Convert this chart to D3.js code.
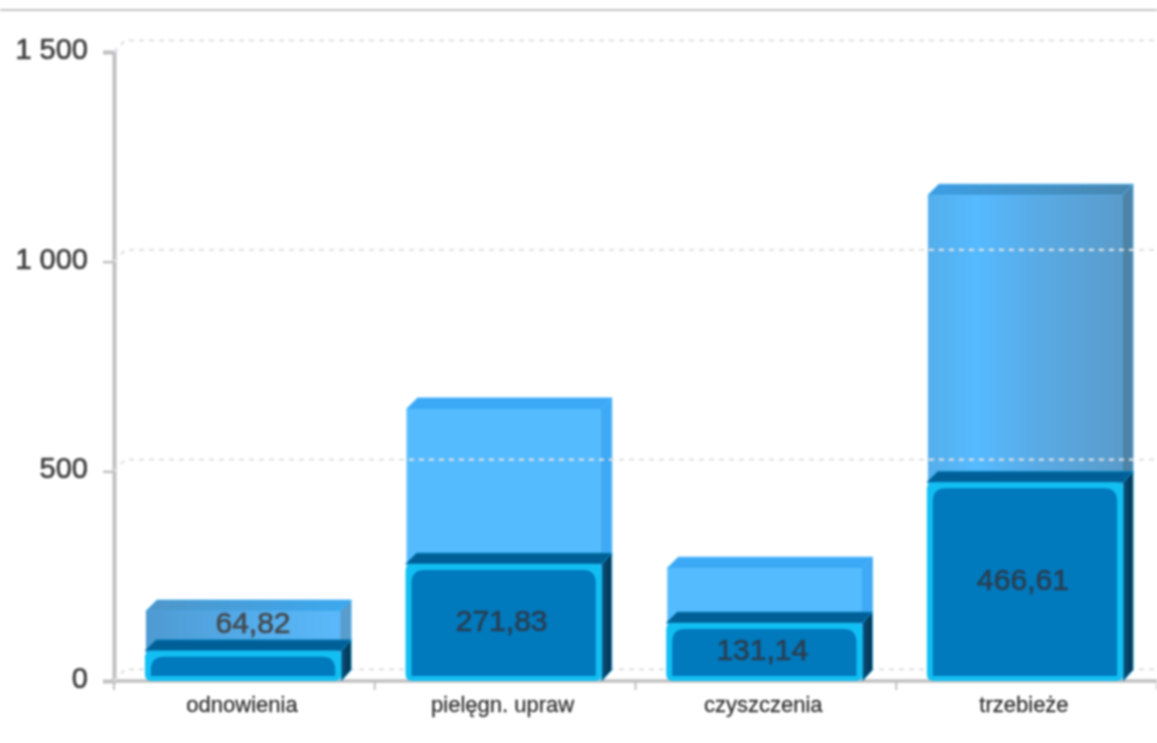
<!DOCTYPE html>
<html><head><meta charset="utf-8">
<script src="https://cdnjs.cloudflare.com/ajax/libs/d3/7.8.5/d3.min.js"></script>
<style>
html,body{margin:0;padding:0;background:#fff;overflow:hidden}
svg{display:block;filter:blur(0.8px)}
text{font-family:"Liberation Sans",Arial,sans-serif}
</style></head><body>
<svg id="c" width="1157" height="743"></svg>
<script>
const categories = ["odnowienia","pielęgn. upraw","czyszczenia","trzebieże"];
const lowerValues = [64.82,271.83,131.14,466.61];
const upperValues = [102,377,138,692];
const yTicks = [0,500,1000,1500];

const W=1157,H=743, DX=11, DY=11;
const svg=d3.select("#c");
const plot={l:114,r:1157,t:52,b:681};
const x=d3.scaleBand().domain(categories).range([plot.l,1154]).paddingInner(0.255).paddingOuter(0.1225);
const y=d3.scaleLinear().domain([0,1500]).range([plot.b,plot.t]);
const loc=d3.formatLocale({decimal:",",thousands:" ",grouping:[3],currency:["",""]});
const fmtVal=loc.format(".2f"), fmtTick=loc.format(",d");

const rows=categories.map((c,i)=>({cat:c,lower:lowerValues[i],upper:upperValues[i]}));
const stacked=d3.stack().keys(["lower","upper"])(rows);

const defs=svg.append("defs");
function grad(id,stops){
  const g=defs.append("linearGradient").attr("id",id).attr("x1",0).attr("x2",1).attr("y1",0).attr("y2",0);
  stops.forEach(s=>g.append("stop").attr("offset",s[0]).attr("stop-color",s[1]));
}
grad("f0",[[0,"#4f9ad2"],[0.6,"#54aeec"],[1,"#5bb8fa"]]);
grad("f3",[[0,"#55aeeb"],[0.25,"#55baff"],[0.55,"#59abe6"],[1,"#5a9ccb"]]);
grad("t0",[[0,"#4f96c8"],[1,"#3ca9f0"]]);
grad("t3",[[0,"#3c9fe4"],[1,"#4a86ae"]]);
grad("sideDark",[[0,"#08527f"],[1,"#062f4a"]]);
const frontFill=["url(#f0)","#55bbff","#55bbff","url(#f3)"];
const topFill=["url(#t0)","#3ca9f6","#3ca9f6","url(#t3)"];
const sideFill=["#5a9ccb","#3fa9f5","#3fa9f5","#4f83a6"];

svg.append("line").attr("x1",0).attr("x2",W).attr("y1",10).attr("y2",10).attr("stroke","#c4c4c4").attr("stroke-width",2);

const axL=svg.append("g").attr("transform",`translate(${plot.l},0)`).call(d3.axisLeft(y).tickValues(yTicks).tickFormat(fmtTick).tickSize(11).tickPadding(15));
const axB=svg.append("g").attr("transform",`translate(0,${plot.b})`);
axL.select(".domain").attr("stroke","#c0c0c0").attr("stroke-width",4);
axL.selectAll(".tick line").attr("stroke","#c0c0c0").attr("stroke-width",2.5);
axL.selectAll("text").attr("font-size",29).attr("fill","#444").attr("stroke","#444").attr("stroke-width",0.7)
  .attr("style",'font-family:"Liberation Sans",Arial,sans-serif').attr("dy","0.22em");

const g=svg.append("g");
const upper=stacked[1], lower=stacked[0];
const bw=x.bandwidth();
upper.forEach((d,i)=>{
  const x0=x(categories[i]), t=y(d[1]), b=y(d[0]);
  g.append("path").attr("d",`M${x0},${t}l${DX},${-DY}h${bw}l${-DX},${DY}z`).attr("fill",topFill[i]).attr("stroke","#3ab0fa").attr("stroke-width",0.8);
  g.append("path").attr("d",`M${x0+bw},${t}l${DX},${-DY}V${b-DY}l${-DX},${DY}z`).attr("fill",sideFill[i]).attr("stroke","#3ab0fa").attr("stroke-width",0.8);
  g.append("rect").attr("x",x0).attr("y",t).attr("width",bw).attr("height",b-t).attr("fill",frontFill[i]);
});

const grid=svg.append("g");
yTicks.forEach(v=>{
  grid.append("path").attr("d",`M${plot.l},${y(v)}l${DX},${-DY-0.7}H${plot.r}`)
    .attr("fill","none").attr("stroke","#dfe2e4").attr("stroke-width",2.2).attr("stroke-dasharray","5 5");
});

const h=svg.append("g");
lower.forEach((d,i)=>{
  const x0=x(categories[i])-1, w=bw+2, t=y(d[1])-3, b=plot.b, sw=6, r=13;
  h.append("path").attr("d",`M${x0+w},${t}l${DX-1},${-DY}V${b-DY}l${-DX+1},${DY}z`).attr("fill","url(#sideDark)").attr("stroke","#0f9fd8").attr("stroke-width",1);
  h.append("path").attr("d",`M${x0},${t}l${DX},${-DY}h${w-1}l${-DX+1},${DY}z`).attr("fill","#005f97").attr("stroke","#0a8fc8").attr("stroke-width",0.8);
  h.append("rect").attr("x",x0).attr("y",t).attr("width",w).attr("height",b-t).attr("rx",6).attr("fill","#12bff2");
  h.append("path").attr("d",`M${x0+sw},${b-sw+1}V${t+sw+r}q0,${-r} ${r},${-r}H${x0+w-sw-r}q${r},0 ${r},${r}V${b-sw+1}z`)
    .attr("fill","#0079bd");
});

const vals=svg.append("g");
lower.forEach((d,i)=>{
  const x0=x(categories[i]), t=y(d[1]), b=y(d[0]);
  const small=(b-t)<40;
  const col=small?"#444b52":"#2a3f52";
  vals.append("text").attr("x",x0+bw/2+(small?10:-2)).attr("y",small?t-32:(t+b)/2-4)
    .attr("dy","0.36em").attr("text-anchor","middle").attr("font-size",30).attr("fill",col).attr("stroke",col).attr("stroke-width",0.7)
    .text(fmtVal(lowerValues[i]));
});

const tickPos=d3.range(categories.length+1).map(i=>plot.l+(plot.r-plot.l)*i/categories.length);
axB.append("line").attr("x1",plot.l-3).attr("x2",plot.r).attr("y1",0).attr("y2",0).attr("stroke","#c0c0c0").attr("stroke-width",3.5);
axB.selectAll("line.t").data(tickPos).join("line").attr("class","t").attr("x1",d=>d).attr("x2",d=>d).attr("y1",0).attr("y2",9).attr("stroke","#c0c0c0").attr("stroke-width",2);
axB.selectAll("text").data(categories).join("text").attr("x",d=>x(d)+bw/2-1).attr("y",31)
  .attr("text-anchor","middle").attr("font-size",22).attr("fill","#333").attr("stroke","#333").attr("stroke-width",0.3).text(d=>d);
</script>
</body></html>
